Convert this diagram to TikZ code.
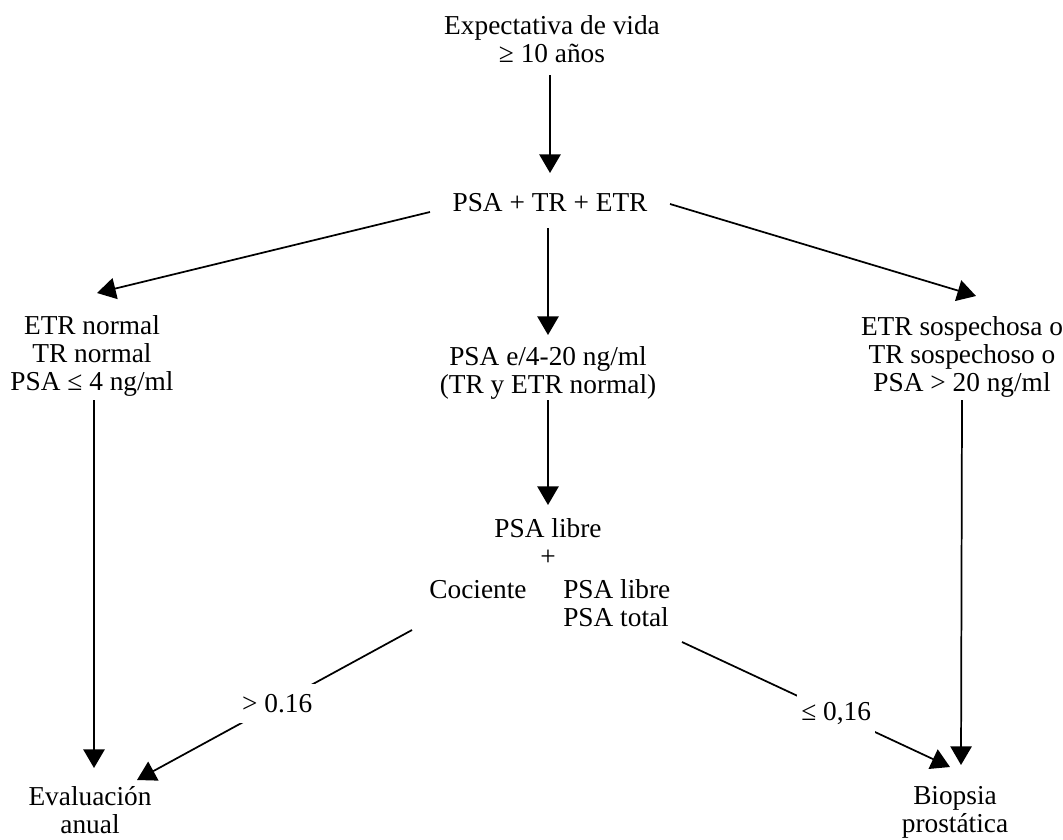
\documentclass[tikz,border=0pt]{standalone}
\usepackage{fontspec}
\setmainfont{Liberation Serif}
\usetikzlibrary{arrows.meta,calc,scopes}

\begin{document}
\begin{tikzpicture}[x=0.75pt,y=-0.75pt,
        t/.style={align=center,inner sep=0pt,anchor=north,font=\fontsize{20.5}{21}\selectfont},
        f/.style={line width=1.3pt,-{Triangle[length=14pt,width=16pt]}},
        e/.style={fill=white,inner xsep=3pt,inner ysep=8pt,font=\fontsize{20.5}{21}\selectfont}]
    \useasboundingbox (0,0) rectangle (1063,839);

    \node[t] (vida) at (552,15) {Expectativa de vida\\≥ 10 años};
    \node[t] (psa) at (550,193) {PSA + TR + ETR};
    \node[t] (normal) at (92,315) {ETR normal\\TR normal\\PSA ≤ 4 ng/ml};
    \node[t] (medio) at (548,346) {PSA e/4-20 ng/ml\\(TR y ETR normal)};
    \node[t] (sosp) at (962,316) {ETR sospechosa o\\TR sospechoso o\\PSA > 20 ng/ml};
    \node[t] (libre) at (548,518) {PSA libre\\+};
    \node[t,anchor=base] (cociente) at (478,598) {Cociente};
    \node[t,anchor=north west,align=left] (razon) at (563,579) {PSA libre\\PSA total};
    \node[t] (anual) at (90,786) {Evaluación\\anual};
    \node[t] (biopsia) at (955,786) {Biopsia\\prostática};

    {[f]
    \draw ($(vida.north)+(-2,60)$) -- ($(psa.north)+(0,-20)$);
    \draw ($(psa.north)+(-120,19)$) -- ($(normal.north)+(5,-22)$);
    \draw ($(psa.north)+(120,11)$) -- ($(sosp.north)+(14,-20)$);
    \draw ($(psa.north)+(-2,35)$) -- ($(medio.north)+(0,-11)$);
    \draw ($(medio.north)+(0,54)$) -- ($(libre.north)+(0,-13)$);
    \draw ($(normal.north)+(2,85)$) -- ($(anual.north)+(4,-18)$);
    \draw ($(sosp.north)+(0,84)$) -- ($(biopsia.north)+(6,-21)$);
    \draw ($(libre.north)+(-136,112)$) -- ($(anual.north)+(47,-6)$) node[e,pos=0.49] {> 0.16};
    \draw ($(libre.north)+(134,124)$) -- ($(biopsia.north)+(-5,-19)$) node[e,pos=0.575] {≤ 0,16};
    }
\end{tikzpicture}
\end{document}
